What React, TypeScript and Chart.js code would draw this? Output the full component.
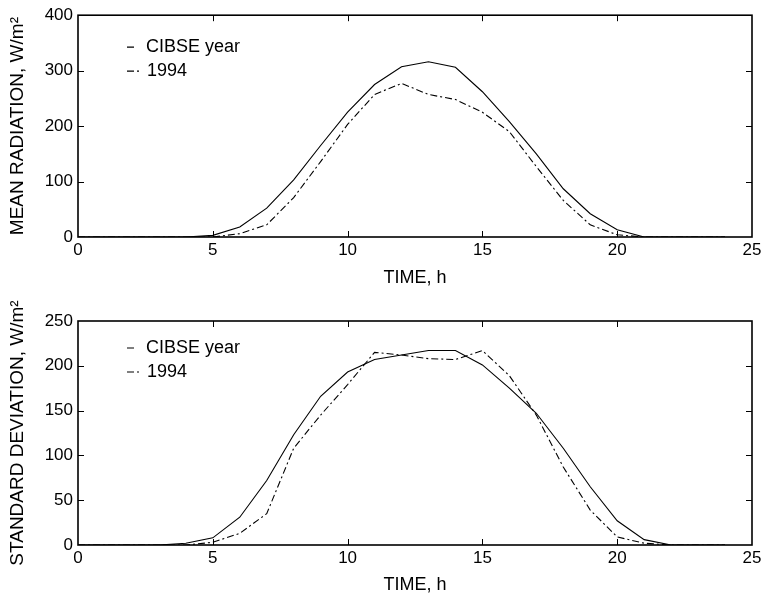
import React, { useEffect, useRef } from "react";
import { Chart, registerables } from "chart.js";

Chart.register(...registerables);

const hours = [0,1,2,3,4,5,6,7,8,9,10,11,12,13,14,15,16,17,18,19,20,21,22,23,24];

const meanCibse = [0,0,0,0,0,3,18,52,103,165,225,275,307,316,306,262,208,150,87,42,13,0,0,0,0];
const mean1994 = [0,0,0,0,0,0,6,22,71,136,203,257,277,257,248,225,190,127,66,22,4,0,0,0,0];

const sdCibse = [0,0,0,0,2,8,31,72,123,166,193,207,212,217,217,201,175,147,108,65,27,6,0,0,0];
const sd1994 = [0,0,0,0,0,3,13,35,108,145,179,215,212,208,207,217,189,145,87,39,9,2,0,0,0];

const seriesLabels = ["CIBSE year", "1994"];
const xTitle = "TIME, h";
const topYTitle = "MEAN RADIATION, W/m²";
const bottomYTitle = "STANDARD DEVIATION, W/m²";

const FONT = "'Liberation Sans', Arial, sans-serif";
const DASHDOT = [7, 3, 2, 3];

const boxPlugin = {
  id: "boxTicks",
  afterDraw(chart: any) {
    const { ctx, chartArea: a, scales } = chart;
    const xs = scales.x, ys = scales.y;
    const L = 6;
    ctx.save();
    ctx.strokeStyle = "#000";
    ctx.lineWidth = 1;
    ctx.beginPath();
    xs.ticks.forEach((t: any) => {
      const px = Math.round(xs.getPixelForValue(t.value)) + 0.5;
      if (t.value === xs.min || t.value === xs.max) return;
      ctx.moveTo(px, a.bottom); ctx.lineTo(px, a.bottom - L);
      ctx.moveTo(px, a.top); ctx.lineTo(px, a.top + L);
    });
    ys.ticks.forEach((t: any) => {
      const py = Math.round(ys.getPixelForValue(t.value)) + 0.5;
      if (t.value === ys.min || t.value === ys.max) return;
      ctx.moveTo(a.left, py); ctx.lineTo(a.left + L, py);
      ctx.moveTo(a.right, py); ctx.lineTo(a.right - L, py);
    });
    ctx.stroke();
    ctx.lineWidth = 1.6;
    ctx.strokeRect(a.left, a.top, a.right - a.left, a.bottom - a.top);
    // legend
    const lx = chart.options.plugins.inLegend;
    if (lx) {
      ctx.font = `18px ${FONT}`;
      ctx.fillStyle = "#000";
      ctx.textBaseline = "middle";
      ctx.textAlign = "left";
      ctx.lineWidth = 1.2;
      const y1 = a.top + lx.y1, y2 = a.top + lx.y2;
      ctx.beginPath();
      ctx.moveTo(127, y1); ctx.lineTo(134, y1);
      ctx.moveTo(127, y2); ctx.lineTo(134, y2);
      ctx.moveTo(137, y2); ctx.lineTo(139, y2);
      ctx.stroke();
      ctx.fillText(chart.data.datasets[0].label, 146, y1);
      ctx.fillText(chart.data.datasets[1].label, 147, y2);
    }
    ctx.restore();
  },
};

function makeConfig(a: number[], b: number[], yMax: number, yStep: number, yTitle: string, top: number, xHeight: number, xTitlePad: number, legendY: [number, number]) {
  return {
    type: "line",
    data: {
      datasets: [
        {
          label: seriesLabels[0],
          data: hours.map((h, i) => ({ x: h, y: a[i] })),
          borderColor: "#000",
          borderWidth: 1.1,
          pointRadius: 0,
          tension: 0,
        },
        {
          label: seriesLabels[1],
          data: hours.map((h, i) => ({ x: h, y: b[i] })),
          borderColor: "#000",
          borderWidth: 1.1,
          borderDash: DASHDOT,
          pointRadius: 0,
          tension: 0,
        },
      ],
    },
    options: {
      animation: false,
      responsive: false,
      devicePixelRatio: 1,
      layout: { padding: { top, right: 13, left: 0, bottom: 0 } },
      plugins: {
        legend: { display: false },
        tooltip: { enabled: false },
        inLegend: { y1: legendY[0], y2: legendY[1] },
      },
      scales: {
        x: {
          type: "linear",
          min: 0,
          max: 25,
          grid: { display: false, drawTicks: false },
          border: { display: false },
          ticks: { stepSize: 5, color: "#000", padding: 3, font: { size: 17, family: FONT } },
          title: { display: true, text: xTitle, color: "#000", font: { size: 18, family: FONT }, padding: { top: 0, bottom: xTitlePad } },
          afterFit: (s: any) => { s.height = xHeight; },
        },
        y: {
          type: "linear",
          min: 0,
          max: yMax,
          grid: { display: false, drawTicks: false },
          border: { display: false },
          ticks: { stepSize: yStep, color: "#000", padding: 5, font: { size: 17, family: FONT } },
          title: { display: true, text: yTitle, color: "#000", font: { size: 19, family: FONT }, padding: { top: 6, bottom: 0 } },
          afterFit: (s: any) => { s.width = 78; },
        },
      },
    },
    plugins: [boxPlugin],
  } as any;
}

export default function App() {
  const topRef = useRef<HTMLCanvasElement>(null);
  const botRef = useRef<HTMLCanvasElement>(null);
  useEffect(() => {
    const c1 = new Chart(topRef.current!, makeConfig(meanCibse, mean1994, 400, 100, topYTitle, 11, 63, 11, [32, 56]));
    const c2 = new Chart(botRef.current!, makeConfig(sdCibse, sd1994, 250, 50, bottomYTitle, 21, 55, 4, [27, 51]));
    return () => { c1.destroy(); c2.destroy(); };
  }, []);
  return (
    <div style={{ position: "absolute", left: 0, top: 0, width: 765, height: 600, background: "#fff" }}>
      <canvas ref={topRef} width={765} height={300} style={{ display: "block", width: 765, height: 300 }} />
      <canvas ref={botRef} width={765} height={300} style={{ display: "block", width: 765, height: 300 }} />
    </div>
  );
}
